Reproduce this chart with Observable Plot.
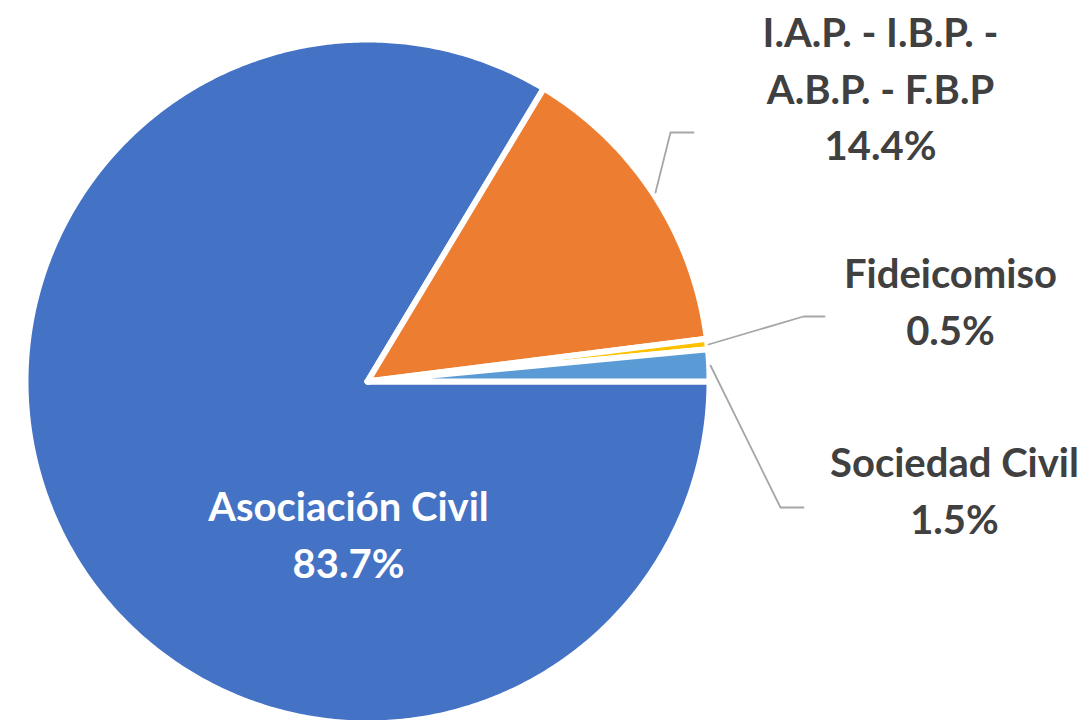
<!DOCTYPE html>
<html>
<head>
<meta charset="utf-8">
<script src="https://cdn.jsdelivr.net/npm/d3@7"></script>
<script src="https://cdn.jsdelivr.net/npm/@observablehq/plot@0.6"></script>
<style>
  html, body { margin: 0; padding: 0; background: #fff; }
</style>
</head>
<body>
<div id="chart"></div>
<script>
// Data
const categories = ["Asociación Civil", "I.A.P. - I.B.P. - A.B.P. - F.B.P", "Fideicomiso", "Sociedad Civil"];
const values = [83.7, 14.4, 0.5, 1.5];
const labels = ["Asociación Civil\n83.7%", "I.A.P. - I.B.P. -\nA.B.P. - F.B.P\n14.4%", "Fideicomiso\n0.5%", "Sociedad Civil\n1.5%"];
const colors = ["#4472C4", "#ED7D31", "#FFC000", "#5B9BD5"];

// Layout
const W = 1091, H = 720, cx = 367, cy = 381, R = 342;
const labelPos = [[-19, 150], [513, -296], [583, -83], [587, 106]];
const labelColor = ["#ffffff", "#404040", "#404040", "#404040"];
const leaders = [
  null,
  [[288, -189], [303, -249], [326, -249]],
  [[341, -37], [436, -65], [457, -65]],
  [[343, -16], [413, 126], [436, 126]]
];

const total = d3.sum(values);
let acc = 0;
const slicePts = [];
values.forEach((v, i) => {
  const a0 = acc / total * 2 * Math.PI;
  acc += v;
  const a1 = acc / total * 2 * Math.PI;
  const n = Math.max(4, Math.ceil((a1 - a0) / 0.01));
  slicePts.push({cat: categories[i], x: 0, y: 0});
  for (let k = 0; k <= n; k++) {
    const a = a0 + (a1 - a0) * k / n;
    slicePts.push({cat: categories[i], x: R * Math.cos(a), y: R * Math.sin(a)});
  }
  slicePts.push({cat: categories[i], x: 0, y: 0});
});

const leaderPts = [];
leaders.forEach((l, i) => { if (l) l.forEach(p => leaderPts.push({cat: categories[i], x: p[0], y: p[1]})); });

const labelData = categories.map((c, i) => ({cat: c, text: labels[i], x: labelPos[i][0], y: labelPos[i][1], color: labelColor[i]}));

const chart = Plot.plot({
  width: W, height: H,
  margin: 0,
  x: {domain: [-cx, W - cx], range: [0, W], axis: null},
  y: {domain: [-cy, H - cy], range: [0, H], axis: null},
  color: {domain: categories, range: colors},
  style: {background: "#fff"},
  marks: [
    Plot.line(slicePts, {x: "x", y: "y", z: "cat", fill: "cat", stroke: "#fff", strokeWidth: 6, strokeLinejoin: "round", curve: "linear"}),
    Plot.line(leaderPts, {x: "x", y: "y", z: "cat", stroke: "#A6A6A6", strokeWidth: 1.8}),
    Plot.text(labelData, {x: "x", y: "y", text: "text", fill: "color", fontSize: 40, fontWeight: "bold", fontFamily: "Lato, 'Open Sans', sans-serif", lineHeight: 1.42, textAnchor: "middle", lineAnchor: "middle"})
  ]
});
document.getElementById("chart").appendChild(chart);
</script>
</body>
</html>
